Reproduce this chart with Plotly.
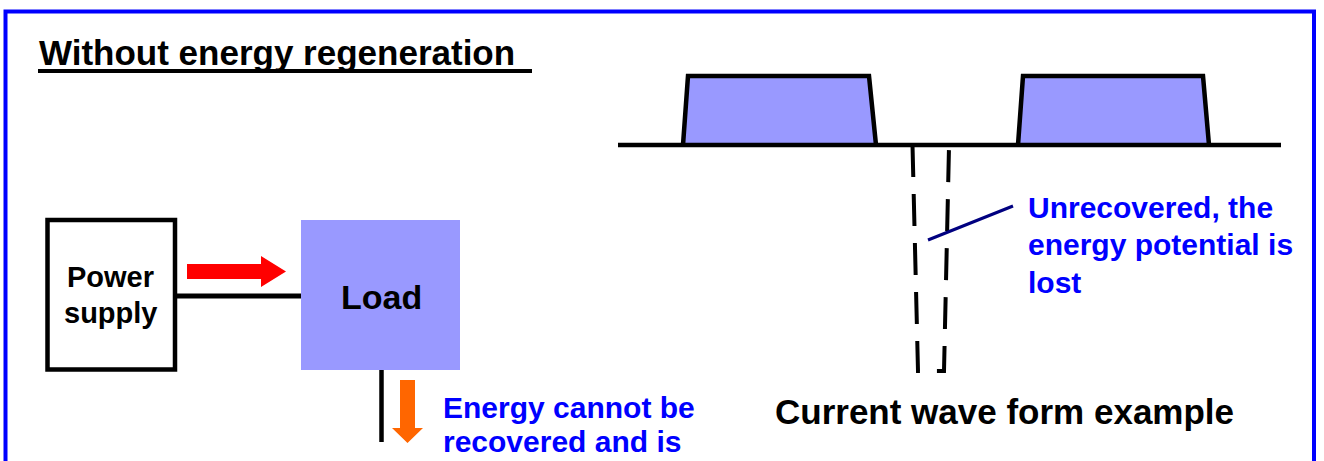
import plotly.graph_objects as go

W, H = 1324, 461
FONT = "Liberation Sans, Arial, sans-serif"

# ---- Current waveform (diagram coordinates, pixel space) ----
baseline_x = [618, 1281]
baseline_y = [145, 145]
pulse1_x = [683, 688, 869, 876]
pulse2_x = [1018, 1023, 1203, 1209]
pulse_y = [145, 76, 76, 145]
lost_x = [912.5, 918, 944, 949]
lost_y = [145, 371, 371, 147]
leader_x = [1013, 928]
leader_y = [206, 240]

# ---- Block diagram ----
supply_box = [47.5, 220, 175, 369.5]
load_box = [301, 220, 460, 370]
connector = [175, 296, 301, 296]
load_tail = [381.5, 370, 381.5, 442]
red_arrow = [(187, 264), (261, 264), (261, 256), (286, 271.5), (261, 287), (261, 279), (187, 279)]
orange_arrow = [(400, 380), (415, 380), (415, 428), (423, 428), (407.5, 443), (392, 428), (400, 428)]
frame = [5.5, 11.5, 1314, 480]
title_rule = [38, 71, 532, 71]

# ---- Texts: (text, x, baseline, size, colour, anchor) ----
texts = [
    ("Without energy regeneration", 37, 63.3, 35, "#000000", "left"),
    ("Current wave form example", 772.5, 422.7, 35, "#000000", "left"),
    ("Load", 381, 307.3, 34, "#000000", "center"),
    ("Power", 110.5, 286, 29, "#000000", "center"),
    ("supply", 110.5, 322.7, 29, "#000000", "center"),
    ("Energy cannot be", 440.5, 416.7, 30, "#0000FF", "left"),
    ("recovered and is", 440.5, 451, 30, "#0000FF", "left"),
    ("Unrecovered, the", 1025.5, 216.7, 30, "#0000FF", "left"),
    ("energy potential is", 1025.5, 254.2, 30, "#0000FF", "left"),
    ("lost", 1025.5, 291.7, 30, "#0000FF", "left"),
]

ASC = 0.905  # Liberation Sans ascent

fig = go.Figure()

for px in (pulse1_x, pulse2_x):
    fig.add_trace(go.Scatter(x=px, y=pulse_y, mode="lines", fill="toself",
                             fillcolor="#9999FF", line=dict(color="black", width=4.5),
                             hoverinfo="skip"))
fig.add_trace(go.Scatter(x=baseline_x, y=baseline_y, mode="lines",
                         line=dict(color="black", width=4.5), hoverinfo="skip"))
fig.add_trace(go.Scatter(x=lost_x, y=lost_y, mode="lines",
                         line=dict(color="black", width=4, dash="32px,17px"),
                         hoverinfo="skip"))
fig.add_trace(go.Scatter(x=leader_x, y=leader_y, mode="lines",
                         line=dict(color="#000080", width=3), hoverinfo="skip"))


def poly_path(pts):
    return "M " + " L ".join(f"{x},{y}" for x, y in pts) + " Z"


shapes = [
    dict(type="rect", x0=frame[0], y0=frame[1], x1=frame[2], y1=frame[3],
         line=dict(color="#0000FF", width=4), fillcolor="rgba(0,0,0,0)"),
    dict(type="line", x0=title_rule[0], y0=title_rule[1], x1=title_rule[2], y1=title_rule[3],
         line=dict(color="black", width=4)),
    dict(type="rect", x0=supply_box[0], y0=supply_box[1], x1=supply_box[2], y1=supply_box[3],
         line=dict(color="black", width=4.5), fillcolor="white"),
    dict(type="line", x0=connector[0], y0=connector[1], x1=connector[2], y1=connector[3],
         line=dict(color="black", width=5)),
    dict(type="rect", x0=load_box[0], y0=load_box[1], x1=load_box[2], y1=load_box[3],
         line=dict(width=0), fillcolor="#9999FF"),
    dict(type="line", x0=load_tail[0], y0=load_tail[1], x1=load_tail[2], y1=load_tail[3],
         line=dict(color="black", width=4.5)),
    dict(type="path", path=poly_path(red_arrow), fillcolor="#FF0000", line=dict(width=0)),
    dict(type="path", path=poly_path(orange_arrow), fillcolor="#FF6600", line=dict(width=0)),
]
for s in shapes:
    s.update(xref="x", yref="y", layer="above")

annotations = []
for txt, x, base, size, col, anc in texts:
    annotations.append(dict(
        text=txt, x=x, y=base - 1 - ASC * size, xref="x", yref="y",
        xanchor=anc, yanchor="top", showarrow=False,
        font=dict(family=FONT, size=size, color=col, weight="bold"),
    ))

fig.update_layout(
    width=W, height=H, autosize=False,
    margin=dict(l=0, r=0, t=0, b=0, pad=0),
    paper_bgcolor="white", plot_bgcolor="white",
    showlegend=False, hovermode=False,
    xaxis=dict(range=[0, W], visible=False, fixedrange=True),
    yaxis=dict(range=[H, 0], visible=False, fixedrange=True),
    shapes=shapes, annotations=annotations,
)

fig.write_html("out.html", config={"displayModeBar": False},
               post_script="document.body.style.margin='0px';document.body.style.overflow='hidden';")
